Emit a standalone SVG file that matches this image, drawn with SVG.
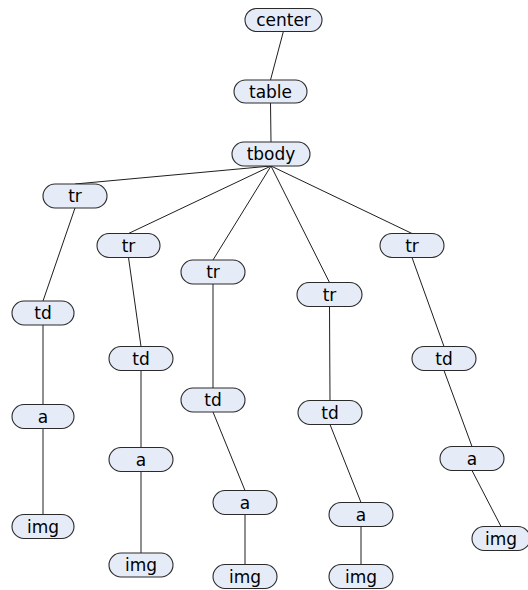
<svg xmlns="http://www.w3.org/2000/svg" width="528" height="590" viewBox="0 0 528 590">
  <style>
    .node rect { fill: #E6ECF7; stroke: #2a2a2a; stroke-width: 1.1; }
    .node text { font-family: "DejaVu Sans", Verdana, sans-serif; font-size: 17px; fill: #000; text-anchor: middle; }
    #edges line { stroke: #1e1e1e; stroke-width: 1; }
  </style>
  <rect width="528" height="590" fill="#ffffff"/>

  <!-- tree connectors: parent bottom-centre to child top-centre -->
  <g id="edges">
    <line x1="283.5" y1="31" x2="270.5" y2="80"/>
    <line x1="270.5" y1="103" x2="271" y2="142"/>
    <line x1="271" y1="166" x2="75" y2="184"/>
    <line x1="271" y1="166" x2="128.5" y2="233.5"/>
    <line x1="271" y1="166" x2="213" y2="260"/>
    <line x1="271" y1="166" x2="329.5" y2="282.5"/>
    <line x1="271" y1="166" x2="412" y2="233.5"/>
    <line x1="75" y1="208" x2="43" y2="301"/>
    <line x1="43" y1="325" x2="43" y2="404.5"/>
    <line x1="43" y1="428.5" x2="43" y2="514.5"/>
    <line x1="128.5" y1="257.5" x2="141" y2="346.5"/>
    <line x1="141" y1="370.5" x2="141" y2="447.5"/>
    <line x1="141" y1="471.5" x2="141" y2="553"/>
    <line x1="213" y1="284" x2="213" y2="388"/>
    <line x1="213" y1="412" x2="245" y2="490.5"/>
    <line x1="245" y1="514.5" x2="245" y2="564.5"/>
    <line x1="329.5" y1="306.5" x2="330" y2="400.5"/>
    <line x1="330" y1="424.5" x2="361" y2="502.5"/>
    <line x1="361" y1="526.5" x2="361" y2="564.5"/>
    <line x1="412" y1="257.5" x2="444" y2="346.5"/>
    <line x1="444" y1="370.5" x2="472" y2="446.5"/>
    <line x1="472" y1="470.5" x2="501" y2="526.5"/>
  </g>

  <g id="n-center" class="node"><rect x="245" y="8.5" width="77" height="23" rx="11.5"/><text x="283.5" y="26">center</text></g>
  <g id="n-table" class="node"><rect x="234" y="80" width="73" height="23" rx="11.5"/><text x="270.5" y="97.5">table</text></g>
  <g id="n-tbody" class="node"><rect x="232" y="142" width="78" height="24" rx="12"/><text x="271" y="160">tbody</text></g>

  <g id="n-tr1" class="node"><rect x="43" y="184" width="64" height="24" rx="12"/><text x="75" y="202">tr</text></g>
  <g id="n-td1" class="node"><rect x="12" y="301" width="62" height="24" rx="12"/><text x="43" y="319">td</text></g>
  <g id="n-a1" class="node"><rect x="12" y="404.5" width="62" height="24" rx="12"/><text x="43" y="422.5">a</text></g>
  <g id="n-img1" class="node"><rect x="12" y="514.5" width="62" height="24" rx="12"/><text x="43" y="532.5">img</text></g>

  <g id="n-tr2" class="node"><rect x="97" y="233.5" width="63" height="24" rx="12"/><text x="128.5" y="251.5">tr</text></g>
  <g id="n-td2" class="node"><rect x="109" y="346.5" width="64" height="24" rx="12"/><text x="141" y="364.5">td</text></g>
  <g id="n-a2" class="node"><rect x="109" y="447.5" width="64" height="24" rx="12"/><text x="141" y="465.5">a</text></g>
  <g id="n-img2" class="node"><rect x="109" y="553" width="64" height="24" rx="12"/><text x="141" y="571">img</text></g>

  <g id="n-tr3" class="node"><rect x="181" y="260" width="64" height="24" rx="12"/><text x="213" y="278">tr</text></g>
  <g id="n-td3" class="node"><rect x="181" y="388" width="64" height="24" rx="12"/><text x="213" y="406">td</text></g>
  <g id="n-a3" class="node"><rect x="213" y="490.5" width="64" height="24" rx="12"/><text x="245" y="508.5">a</text></g>
  <g id="n-img3" class="node"><rect x="213" y="564.5" width="64" height="24" rx="12"/><text x="245" y="582.5">img</text></g>

  <g id="n-tr4" class="node"><rect x="297" y="282.5" width="65" height="24" rx="12"/><text x="329.5" y="300.5">tr</text></g>
  <g id="n-td4" class="node"><rect x="298" y="400.5" width="64" height="24" rx="12"/><text x="330" y="418.5">td</text></g>
  <g id="n-a4" class="node"><rect x="329" y="502.5" width="64" height="24" rx="12"/><text x="361" y="520.5">a</text></g>
  <g id="n-img4" class="node"><rect x="329" y="564.5" width="64" height="24" rx="12"/><text x="361" y="582.5">img</text></g>

  <g id="n-tr5" class="node"><rect x="380" y="233.5" width="64" height="24" rx="12"/><text x="412" y="251.5">tr</text></g>
  <g id="n-td5" class="node"><rect x="412" y="346.5" width="64" height="24" rx="12"/><text x="444" y="364.5">td</text></g>
  <g id="n-a5" class="node"><rect x="440" y="446.5" width="64" height="24" rx="12"/><text x="472" y="464.5">a</text></g>
  <g id="n-img5" class="node"><rect x="472" y="526.5" width="58" height="24" rx="12"/><text x="501" y="544.5">img</text></g>
</svg>
